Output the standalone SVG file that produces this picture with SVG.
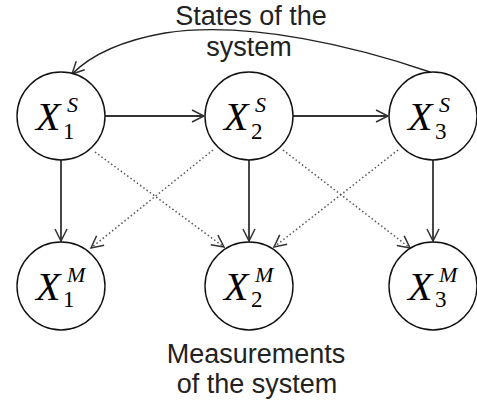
<svg xmlns="http://www.w3.org/2000/svg" width="477" height="404" viewBox="0 0 477 404">
<defs>
<style>
.node circle{fill:#fff;stroke:#111;stroke-width:1.4}
.x{font-family:"Liberation Serif","Times New Roman",serif;font-style:italic;font-size:40px;fill:#000}
.sup{font-family:"Liberation Serif","Times New Roman",serif;font-style:italic;font-size:22px;fill:#000}
.sub{font-family:"Liberation Serif","Times New Roman",serif;font-size:23px;fill:#000}
.lbl{font-family:"Liberation Sans",Arial,sans-serif;font-size:27px;fill:#222;text-anchor:middle}
.solid{fill:none;stroke:#333;stroke-width:1.8}
.dot{fill:none;stroke:#555;stroke-width:1.5;stroke-dasharray:1.5 2.5}
.curve{fill:none;stroke:#222;stroke-width:1.4}
</style>
<marker id="ah" viewBox="-14 -8 16 16" refX="0" refY="0" markerWidth="16" markerHeight="16" markerUnits="userSpaceOnUse" orient="auto">
<path d="M-12,-6 L0,0 L-12,6" fill="none" stroke="#333" stroke-width="1.5"/>
</marker>
</defs>
<g id="labels">
<text class="lbl" x="251" y="25">States of the</text>
<text class="lbl" x="249" y="56">system</text>
<text class="lbl" x="256" y="363">Measurements</text>
<text class="lbl" x="257" y="393">of the system</text>
</g>
<g id="connectors">
<path class="curve" d="M430,72 C360,48 250,20 165,33 C125,40 92,54 72,74" marker-end="url(#ah)"/>
<line class="solid" x1="105" y1="116" x2="204" y2="116" marker-end="url(#ah)"/>
<line class="solid" x1="293" y1="116" x2="388" y2="116" marker-end="url(#ah)"/>
<line class="solid" x1="61" y1="160" x2="61" y2="241" marker-end="url(#ah)"/>
<line class="solid" x1="249" y1="160" x2="249" y2="241" marker-end="url(#ah)"/>
<line class="solid" x1="433" y1="160" x2="433" y2="241" marker-end="url(#ah)"/>
<line class="dot" x1="95" y1="152" x2="224" y2="247" marker-end="url(#ah)"/>
<line class="dot" x1="213" y1="150" x2="91" y2="248" marker-end="url(#ah)"/>
<line class="dot" x1="283" y1="150" x2="410" y2="248" marker-end="url(#ah)"/>
<line class="dot" x1="398" y1="150" x2="274" y2="247" marker-end="url(#ah)"/>
</g>
<g id="X1S" class="node"><circle cx="61" cy="116" r="44"/><text class="x" x="36" y="130">X</text><text class="sup" x="67" y="112">S</text><text class="sub" x="63" y="139">1</text></g>
<g id="X2S" class="node"><circle cx="249" cy="116" r="44"/><text class="x" x="224" y="130">X</text><text class="sup" x="255" y="112">S</text><text class="sub" x="251" y="139">2</text></g>
<g id="X3S" class="node"><circle cx="433" cy="116" r="44"/><text class="x" x="408" y="130">X</text><text class="sup" x="439" y="112">S</text><text class="sub" x="435" y="139">3</text></g>
<g id="X1M" class="node"><circle cx="61" cy="286" r="44"/><text class="x" x="36" y="300">X</text><text class="sup" x="67" y="282">M</text><text class="sub" x="63" y="307">1</text></g>
<g id="X2M" class="node"><circle cx="249" cy="286" r="44"/><text class="x" x="224" y="300">X</text><text class="sup" x="255" y="282">M</text><text class="sub" x="251" y="307">2</text></g>
<g id="X3M" class="node"><circle cx="433" cy="286" r="44"/><text class="x" x="408" y="300">X</text><text class="sup" x="439" y="282">M</text><text class="sub" x="435" y="307">3</text></g>
</svg>
